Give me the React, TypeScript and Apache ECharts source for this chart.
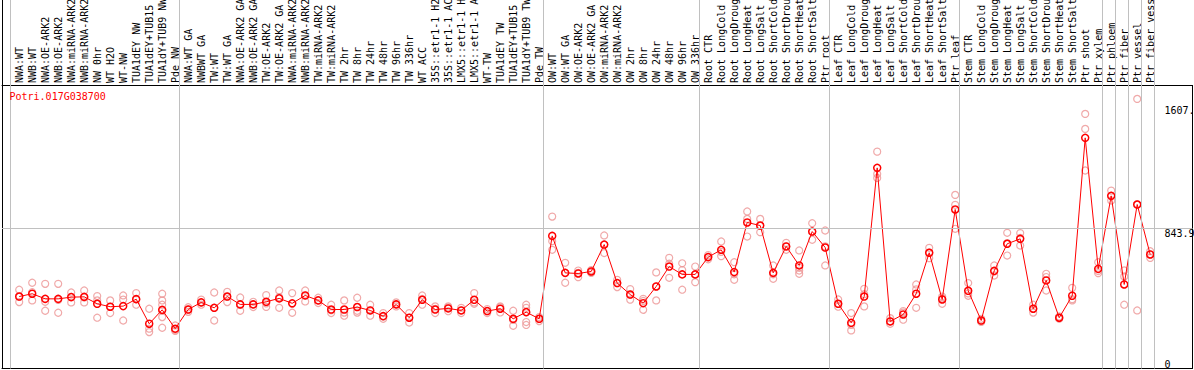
import React, { useEffect, useRef } from "react";
import * as echarts from "echarts";

const GENE_NAME = "Potri.017G038700";

const CATEGORIES = [
  "NWA:WT", "NWB:WT", "NWA:OE-ARK2", "NWB:OE-ARK2", "NWA:miRNA-ARK2", "NWB:miRNA-ARK2", "NW 0hr", "WT H2O", "WT-NW", "TUA1dEY NW", "TUA1dEY+TUB15", "TUA1dY+TUB9 NW", "Pde NW",
  "NWA:WT GA", "NWBWT GA", "TW:WT", "TW:WT GA", "NWA:OE-ARK2 GA", "NWB:OE-ARK2 GA", "TW:OE-ARK2", "TW:OE-ARK2 GA", "NWA:miRNA-ARK2", "NWB:miRNA-ARK2", "TW:miRNA-ARK2", "TW:miRNA-ARK2", "TW 2hr", "TW 8hr", "TW 24hr", "TW 48hr", "TW 96hr", "TW 336hr", "WT ACC", "35S::etr1-1 H2", "35S::etr1-1 AC", "LMX5::etr1-1 H", "LMX5::etr1-1 A", "WT-TW", "TUA1dEY TW", "TUA1dEY+TUB15", "TUA1dY+TUB9 TW", "Pde TW",
  "OW:WT", "OW:WT GA", "OW:OE-ARK2", "OW:OE-ARK2 GA", "OW:miRNA-ARK2", "OW:miRNA-ARK2", "OW 2hr", "OW 8hr", "OW 24hr", "OW 48hr", "OW 96hr", "OW 336hr",
  "Root CTR", "Root LongCold", "Root LongDroug", "Root LongHeat", "Root LongSalt", "Root ShortCold", "Root ShortDrou", "Root ShortHeat", "Root ShortSalt", "Ptr root",
  "Leaf CTR", "Leaf LongCold", "Leaf LongDroug", "Leaf LongHeat", "Leaf LongSalt", "Leaf ShortCold", "Leaf ShortDrou", "Leaf ShortHeat", "Leaf ShortSalt", "Ptr leaf",
  "Stem CTR", "Stem LongCold", "Stem LongDroug", "Stem LongHeat", "Stem LongSalt", "Stem ShortCold", "Stem ShortDrou", "Stem ShortHeat", "Stem ShortSalt", "Ptr shoot", "Ptr xylem",
  "Ptr phloem", "Ptr fiber", "Ptr vessel", "Ptr fiber vess",
];

const GROUP_SIZES = [13, 28, 12, 10, 10, 11, 1, 1, 1, 1];

const MEANS = [
  404, 422, 389, 389, 400, 402, 357, 338, 342, 387, 228, 318, 196,
  320, 366, 331, 404, 353, 353, 370, 392, 360, 411, 379, 320, 320, 336, 314, 277, 353, 267, 383, 320, 327, 314, 383, 310, 325, 260, 303, 260,
  796, 557, 553, 566, 740, 491, 417, 361, 469, 598, 547, 547,
  659, 706, 562, 883, 863, 557, 728, 605, 824, 721,
  357, 234, 404, 1236, 243, 288, 422, 687, 385, 967,
  441, 249, 570, 745, 777, 325, 508, 267, 409, 1430, 583,
  1055, 482, 999, 676,
];

const REPLICATES = [
  [448, 404, 368], [493, 432, 379], [486, 370, 312], [486, 382, 299], [430, 402, 366], [443, 398, 366], [407, 379, 267], [379, 338, 297], [411, 384, 249], [426, 387, 351], [325, 196, 174], [422, 379, 351, 312, 271, 202], [217, 189, 182],
  [335, 320, 305], [384, 365, 351], [430, 331, 249], [434, 404, 368], [398, 350, 312], [370, 353, 336], [413, 360, 337], [443, 400, 331], [426, 357, 299], [443, 411, 372], [396, 379, 362], [351, 315, 297], [379, 300, 280], [396, 312, 300], [351, 314, 280], [297, 275, 260], [366, 353, 340], [297, 268, 236], [411, 388, 351], [340, 324, 297], [340, 332, 309], [331, 314, 297], [426, 366, 357], [323, 310, 297], [340, 334, 301], [312, 253, 215], [351, 331, 303, 239, 220], [271, 260, 245],
  [921, 762, 706], [622, 557, 493], [572, 557, 529], [575, 566, 557], [799, 740, 685], [512, 491, 465], [452, 417, 384], [389, 375, 318], [560, 469, 379], [654, 616, 525], [619, 575, 448], [598, 547, 497],
  [672, 659, 645], [760, 693, 665], [626, 548, 512], [954, 906, 792], [906, 863, 820], [605, 548, 519], [751, 728, 706], [702, 590, 572, 551], [878, 824, 771], [831, 728, 605],
  [385, 357, 338], [297, 221, 185], [454, 419, 340], [1341, 1197, 1171], [264, 243, 228], [310, 300, 254], [482, 450, 331], [719, 689, 652], [404, 392, 357], [1061, 997, 842],
  [491, 424, 409], [260, 249, 240], [605, 566, 540], [816, 750, 669], [814, 783, 734], [351, 325, 300], [551, 530, 443], [275, 267, 260], [460, 387, 379], [1585, 1488, 1219], [626, 569, 555],
  [1089, 1055, 1025], [573, 534, 351], [1682, 1001, 314], [697, 676, 654],
];

const Y_TICKS = [0, 843.9];
const Y_TICK_LABELS = ["0", "843.9"];
const Y_TOP_TICK = 1607;
const Y_TOP_LABEL = "1607.";
const MID_LINE_VALUE = 843.9;

// layout
const X_MIN = -1.3231;
const X_MAX = 90.2538;
const Y_MIN = -61.43;
const Y_MAX = 2321.5;
const SEP_OFFSET = 0.669;

const FONT = "'DejaVu Sans Mono', 'Liberation Mono', monospace";
const GRAY = "#c0c0c0";
const REP_COLOR = "#ec9494";
const RED = "#ff0000";

export default function App() {
  const ref = useRef<HTMLDivElement>(null);

  useEffect(() => {
    const chart = echarts.init(ref.current!, null, { renderer: "svg" });

    const starts: number[] = [];
    let acc = 0;
    for (const s of GROUP_SIZES) {
      starts.push(acc);
      acc += s;
    }
    starts.push(acc);

    const sepData: any[] = starts.map((s) => ({
      xAxis: s - SEP_OFFSET,
      lineStyle: { color: GRAY, width: 1, type: "solid" },
    }));
    sepData.push({ yAxis: MID_LINE_VALUE, lineStyle: { color: GRAY, width: 1, type: "solid" } });

    const repData: number[][] = [];
    REPLICATES.forEach((reps, i) => reps.forEach((v) => repData.push([i, v])));
    const meanData = MEANS.map((v, i) => [i, v]);

    chart.setOption({
      animation: false,
      backgroundColor: "#ffffff",
      title: {
        text: GENE_NAME,
        left: 9.5,
        top: 91,
        padding: 0,
        textStyle: { color: RED, fontFamily: FONT, fontSize: 10, fontWeight: "normal" },
      },
      grid: { left: 2, right: 1.5, top: 0, bottom: 1.5, containLabel: false, outerBoundsMode: "none" },
      xAxis: [
        {
          type: "value",
          position: "top",
          offset: -85,
          min: X_MIN,
          max: X_MAX,
          axisLine: { show: true, onZero: false, lineStyle: { color: "#000", width: 1 } },
          axisTick: { show: false },
          splitLine: { show: false },
          axisLabel: {
            show: true,
            customValues: CATEGORIES.map((_, i) => i),
            formatter: (v: number) => CATEGORIES[Math.round(v)] ?? "",
            rotate: -90,
            align: "left",
            verticalAlign: "middle",
            margin: 2,
            color: "#000",
            fontFamily: FONT,
            fontSize: 10,
          },
        },
        {
          type: "value",
          position: "bottom",
          min: X_MIN,
          max: X_MAX,
          axisLine: { show: true, onZero: false, lineStyle: { color: "#000", width: 1 } },
          axisTick: { show: false },
          splitLine: { show: false },
          axisLabel: { show: false },
        },
      ],
      yAxis: [
        {
          type: "value",
          position: "left",
          min: Y_MIN,
          max: Y_MAX,
          axisLine: { show: true, onZero: false, lineStyle: { color: "#000", width: 1 } },
          axisTick: { show: false },
          splitLine: { show: false },
          axisLabel: { show: false },
        },
        {
          type: "value",
          position: "right",
          min: Y_MIN,
          max: Y_MAX,
          axisLine: { show: false, onZero: false },
          axisTick: { show: false },
          splitLine: { show: false },
          axisLabel: {
            show: true,
            inside: true,
            customValues: Y_TICKS,
            formatter: (v: number) => {
              const idx = Y_TICKS.findIndex((t) => Math.abs(t - v) < 1e-6);
              return idx >= 0 ? Y_TICK_LABELS[idx] : "";
            },
            align: "left",
            verticalAlign: "top",
            margin: 28,
            color: "#000",
            fontFamily: FONT,
            fontSize: 10,
          },
        },
        {
          type: "value",
          position: "right",
          min: Y_MIN,
          max: Y_MAX,
          axisLine: { show: false, onZero: false },
          axisTick: { show: false },
          splitLine: { show: false },
          axisLabel: {
            show: true,
            inside: true,
            customValues: [Y_TOP_TICK],
            formatter: () => Y_TOP_LABEL,
            align: "left",
            verticalAlign: "middle",
            padding: [0, 0, 4, 0],
            margin: 28,
            color: "#000",
            fontFamily: FONT,
            fontSize: 10,
          },
        },
      ],
      graphic: [
        {
          type: "line",
          silent: true,
          shape: { x1: 1192.5, y1: 85, x2: 1192.5, y2: 368.5 },
          style: { stroke: "#000", lineWidth: 1 },
        },
      ],
      series: [
        {
          type: "scatter",
          xAxisIndex: 1,
          yAxisIndex: 0,
          data: repData,
          symbol: "circle",
          symbolSize: 7,
          silent: true,
          z: 2,
          itemStyle: { color: "rgba(0,0,0,0)", borderColor: REP_COLOR, borderWidth: 1.2 },
          markLine: {
            silent: true,
            symbol: ["none", "none"],
            label: { show: false },
            emphasis: { disabled: true },
            data: sepData,
          },
        },
        {
          type: "line",
          xAxisIndex: 1,
          yAxisIndex: 0,
          data: meanData,
          symbol: "circle",
          symbolSize: 7,
          showAllSymbol: true,
          silent: true,
          z: 3,
          lineStyle: { color: RED, width: 1 },
          itemStyle: { color: "rgba(0,0,0,0)", borderColor: RED, borderWidth: 1.5 },
        },
      ],
    });

    return () => chart.dispose();
  }, []);

  return (
    <div
      ref={ref}
      style={{ position: "fixed", left: 0, top: 0, width: 1194, height: 370, background: "#fff" }}
    />
  );
}
